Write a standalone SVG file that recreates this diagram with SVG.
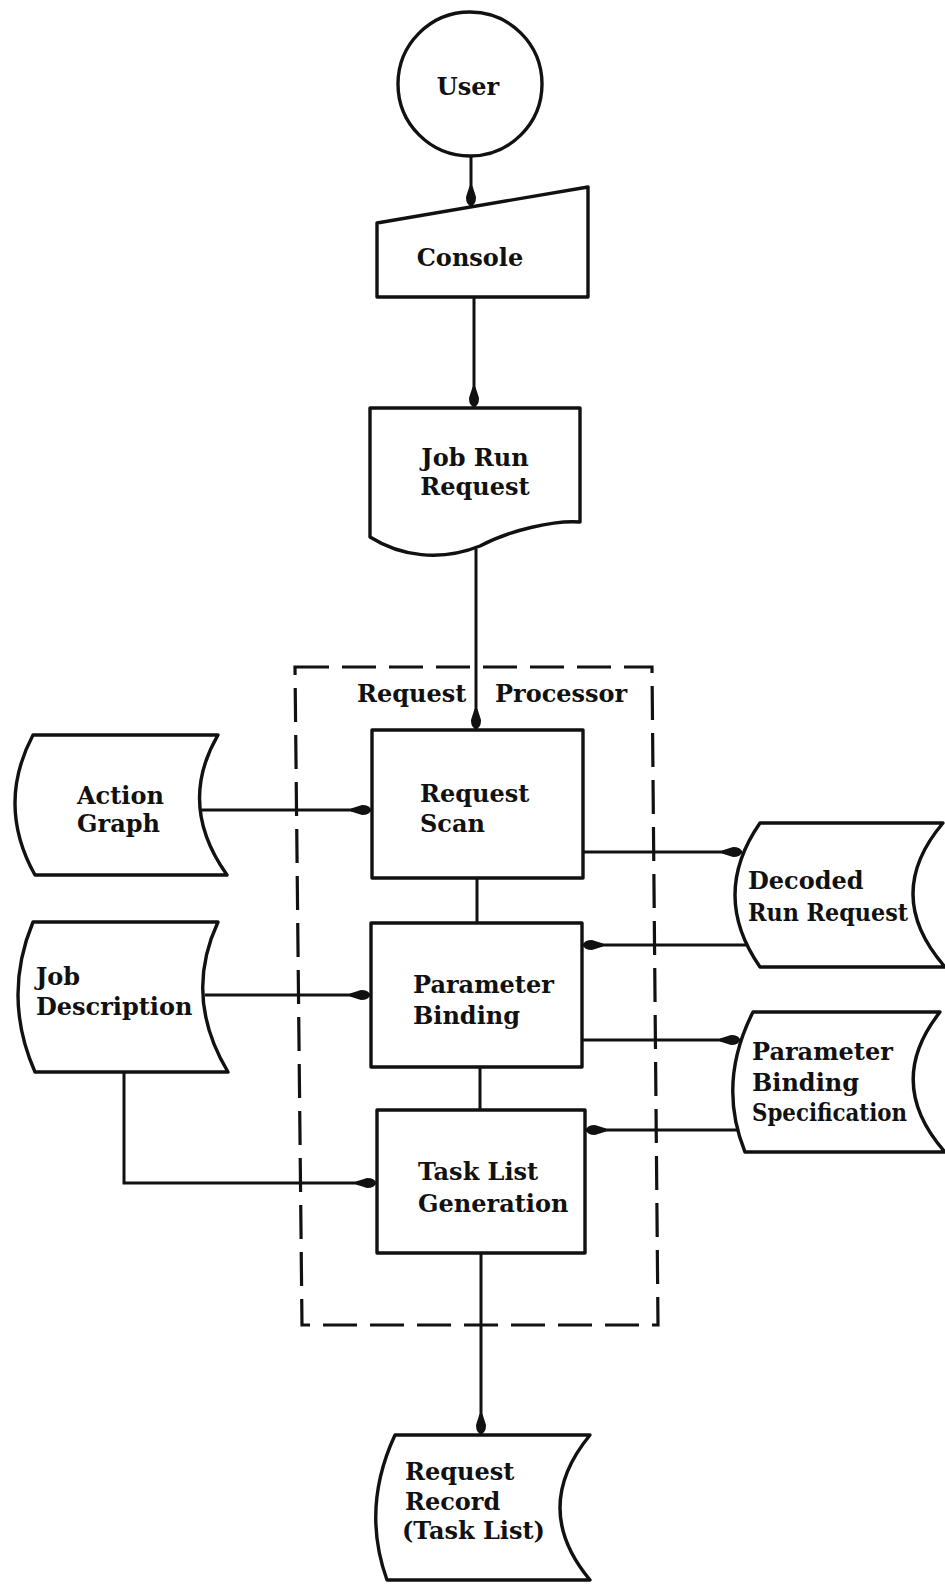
<svg xmlns="http://www.w3.org/2000/svg" width="945" height="1586" viewBox="0 0 945 1586">
  <style>
    .shape { fill: #fff; stroke: #111; stroke-width: 3.4; stroke-linejoin: round; }
    .wire { fill: none; stroke: #111; stroke-width: 3; }
    .frame { fill: none; stroke: #111; stroke-width: 3.2; stroke-dasharray: 34 13; }
    text { font-family: "DejaVu Serif", "Liberation Serif", serif; font-weight: bold; font-size: 24px; fill: #111; }
    .mid { text-anchor: middle; }
  </style>
  <defs>
    <marker id="arrow" viewBox="-22 -6 24 12" markerWidth="24" markerHeight="12" refX="0" refY="0" markerUnits="userSpaceOnUse" orient="auto">
      <path d="M-20,-1.5 L-9,-5 Q-1,-5 0,0 Q-1,5 -9,5 L-20,1.5 Z" fill="#111"/>
    </marker>
  </defs>

  <!-- dashed boundary of the request processor -->
  <g id="request-processor">
    <polygon class="frame" points="295,667 652,667 658,1325 302,1325"/>
    <text x="357" y="702">Request</text>
    <text x="495" y="702">Processor</text>
  </g>

  <g id="connectors">
    <line class="wire" x1="471" y1="157" x2="471" y2="206" marker-end="url(#arrow)"/>
    <line class="wire" x1="474" y1="297" x2="474" y2="407" marker-end="url(#arrow)"/>
    <line class="wire" x1="476" y1="549" x2="476" y2="729" marker-end="url(#arrow)"/>
    <line class="wire" x1="202" y1="810" x2="371" y2="810" marker-end="url(#arrow)"/>
    <line class="wire" x1="583" y1="852" x2="742" y2="852" marker-end="url(#arrow)"/>
    <line class="wire" x1="748" y1="945" x2="583" y2="945" marker-end="url(#arrow)"/>
    <line class="wire" x1="477" y1="878" x2="477" y2="923"/>
    <line class="wire" x1="205" y1="995" x2="370" y2="995" marker-end="url(#arrow)"/>
    <line class="wire" x1="582" y1="1040" x2="740" y2="1040" marker-end="url(#arrow)"/>
    <line class="wire" x1="744" y1="1130" x2="586" y2="1130" marker-end="url(#arrow)"/>
    <line class="wire" x1="480" y1="1067" x2="480" y2="1110"/>
    <polyline class="wire" points="124,1072 124,1183 376,1183" marker-end="url(#arrow)"/>
    <line class="wire" x1="481" y1="1253" x2="481" y2="1434" marker-end="url(#arrow)"/>
  </g>

  <g id="user">
    <circle class="shape" cx="470" cy="84" r="72"/>
    <text class="mid" x="468" y="95">User</text>
  </g>

  <g id="console">
    <polygon class="shape" points="377,223 588,187 588,297 377,297"/>
    <text class="mid" x="470" y="266">Console</text>
  </g>

  <g id="job-run-request">
    <path class="shape" d="M370,408 L580,408 L580,522 C555,520 510,530 480,546 C440,562 400,556 370,537 Z"/>
    <text class="mid" x="475" y="466">Job Run</text>
    <text class="mid" x="475" y="495">Request</text>
  </g>

  <g id="request-scan">
    <rect class="shape" x="372" y="730" width="211" height="148"/>
    <text x="420" y="802">Request</text>
    <text x="420" y="832">Scan</text>
  </g>

  <g id="parameter-binding">
    <rect class="shape" x="371" y="923" width="211" height="144"/>
    <text x="413" y="993">Parameter</text>
    <text x="413" y="1024">Binding</text>
  </g>

  <g id="task-list-generation">
    <rect class="shape" x="377" y="1110" width="208" height="143"/>
    <text x="418" y="1180">Task List</text>
    <text x="418" y="1212">Generation</text>
  </g>

  <g id="action-graph">
    <path class="shape" d="M33,735 L218,735 Q177,805 227,875 L35,875 Q-4,805 33,735 Z"/>
    <text x="77" y="804">Action</text>
    <text x="77" y="832">Graph</text>
  </g>

  <g id="job-description">
    <path class="shape" d="M33,922 L218,922 Q183,997 228,1072 L35,1072 Q2,997 33,922 Z"/>
    <text x="36" y="985">Job</text>
    <text x="36" y="1015">Description</text>
  </g>

  <g id="decoded-run-request">
    <path class="shape" d="M760,823 L943,823 Q882,895 945,967 L760,967 Q710,895 760,823 Z"/>
    <text x="748" y="889">Decoded</text>
    <text x="748" y="921" textLength="160" lengthAdjust="spacingAndGlyphs">Run Request</text>
  </g>

  <g id="parameter-binding-specification">
    <path class="shape" d="M753,1012 L940,1012 Q884,1083 945,1152 L745,1152 Q717,1083 753,1012 Z"/>
    <text x="752" y="1060">Parameter</text>
    <text x="752" y="1091">Binding</text>
    <text x="752" y="1121" textLength="155" lengthAdjust="spacingAndGlyphs">Specification</text>
  </g>

  <g id="request-record">
    <path class="shape" d="M395,1435 L590,1435 Q530,1508 590,1580 L387,1580 Q361,1508 395,1435 Z"/>
    <text x="405" y="1480">Request</text>
    <text x="405" y="1510">Record</text>
    <text x="402" y="1539">(Task List)</text>
  </g>
</svg>
